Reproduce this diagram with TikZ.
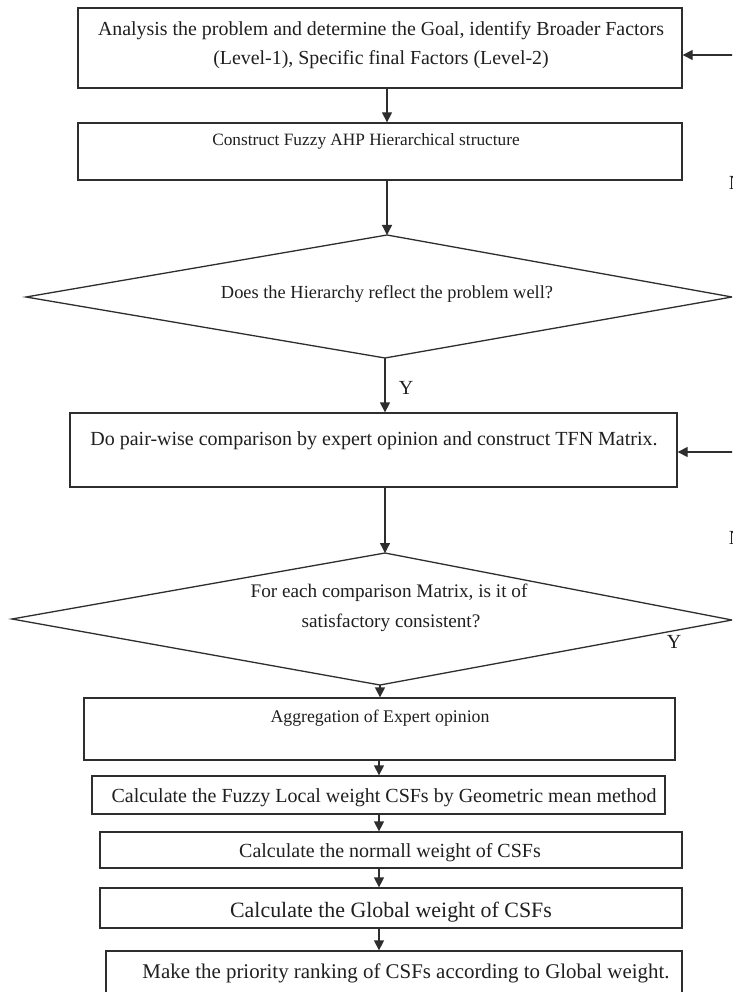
\documentclass[tikz,border=0pt]{standalone}
\usepackage{fontspec}
\setmainfont{Liberation Serif}
\usetikzlibrary{arrows.meta}
\begin{document}
\begin{tikzpicture}[x=1pt,y=-1pt,
  stroke/.style={draw=black!82, line width=1.3pt},
  box/.style={stroke, rectangle, inner sep=0pt},
  flow/.style={stroke, -{Triangle[length=10pt,width=10pt]}},
  txt/.style={inner sep=0pt, anchor=base, text=black!88},
  fs/.style={font=\fontsize{#1}{#1}\selectfont}
]
\useasboundingbox (0,0) rectangle (732,992);
\clip (0,0) rectangle (732,992);
\fill[white] (0,0) rectangle (732,992);

% process boxes
\node[box, minimum width=604pt, minimum height=80pt] (b1) at (380,48) {};
\node[box, minimum width=604pt, minimum height=57pt] (b2) at (380,151.5) {};
\node[box, minimum width=607pt, minimum height=74pt] (b3) at (373.5,450) {};
\node[box, minimum width=591pt, minimum height=62pt] (b4) at (379.5,729) {};
\node[box, minimum width=573pt, minimum height=38pt] (b5) at (378.5,795) {};
\node[box, minimum width=582pt, minimum height=36pt] (b6) at (391,850) {};
\node[box, minimum width=582pt, minimum height=40pt] (b7) at (391,908) {};
\node[box, minimum width=576pt, minimum height=44pt] (b8) at (394,973) {};

% decision diamonds
\coordinate (d1w) at (26,297);
\coordinate (d1n) at (387,235);
\coordinate (d1e) at (732,297);
\coordinate (d1s) at (385,358);
\draw[stroke, line join=miter] (d1w) -- (d1n) -- (d1e) -- (d1s) -- cycle;

\coordinate (d2w) at (12,619);
\coordinate (d2n) at (385,553);
\coordinate (d2e) at (732,620);
\coordinate (d2s) at (380,685);
\draw[stroke, line join=miter] (d2w) -- (d2n) -- (d2e) -- (d2s) -- cycle;

% texts
\node[txt, fs=19.9] (t1a) at (381,36) {Analysis the problem and determine the Goal, identify Broader Factors};
\node[txt, fs=19.9] (t1b) at (381,65) {(Level-1), Specific final Factors (Level-2)};
\node[txt, fs=17.3] (t2) at (366,146) {Construct Fuzzy AHP Hierarchical structure};
\node[txt, fs=18.4] (t3) at (387,298) {Does the Hierarchy reflect the problem well?};
\node[txt, fs=20] (t4) at (374,445) {Do pair-wise comparison by expert opinion and construct TFN Matrix.};
\node[txt, fs=19.2] (t5a) at (389,597) {For each comparison Matrix, is it of};
\node[txt, fs=19.2] (t5b) at (391,627) {satisfactory consistent?};
\node[txt, fs=17.8] (t6) at (380,722) {Aggregation of Expert opinion};
\node[txt, fs=20] (t7) at (384,802) {Calculate the Fuzzy Local weight CSFs by Geometric mean method};
\node[txt, fs=20] (t8) at (390,857) {Calculate the normall weight of CSFs};
\node[txt, fs=21.9] (t9) at (391,917) {Calculate the Global weight of CSFs};
\node[txt, fs=20.9] (t10) at (406,978) {Make the priority ranking of CSFs according to Global weight.};

% branch labels
\node[txt, fs=20, anchor=center] (y1) at (406,388) {Y};
\node[txt, fs=20, anchor=center] (y2) at (674,642) {Y};
\node[txt, fs=20, anchor=center] (n1) at (736,183) {N};
\node[txt, fs=20, anchor=center] (n2) at (736,538) {N};

% main flow
\coordinate (spine) at (379,0);
\draw[flow] ([xshift=7pt]b1.south) -- ([xshift=7pt]b2.north);
\draw[flow] (b2.south -| d1n) -- (d1n);
\draw[flow] (d1s) -- (d1s |- b3.north);
\draw[flow] (b3.south -| d2n) -- (d2n);
\draw[flow] (d2s) -- (d2s |- b4.north);
\draw[flow] (b4.south -| spine) -- (b5.north -| spine);
\draw[flow] (b5.south -| spine) -- (b6.north -| spine);
\draw[flow] (b6.south -| spine) -- (b7.north -| spine);
\draw[flow] (b7.south -| spine) -- (b8.north -| spine);

% feedback returns entering from the right
\coordinate (fb1) at (740,55);
\coordinate (fb2) at (740,452);
\draw[flow] (fb1) -- (fb1 -| b1.east);
\draw[flow] (fb2) -- (fb2 -| b3.east);
\end{tikzpicture}
\end{document}
